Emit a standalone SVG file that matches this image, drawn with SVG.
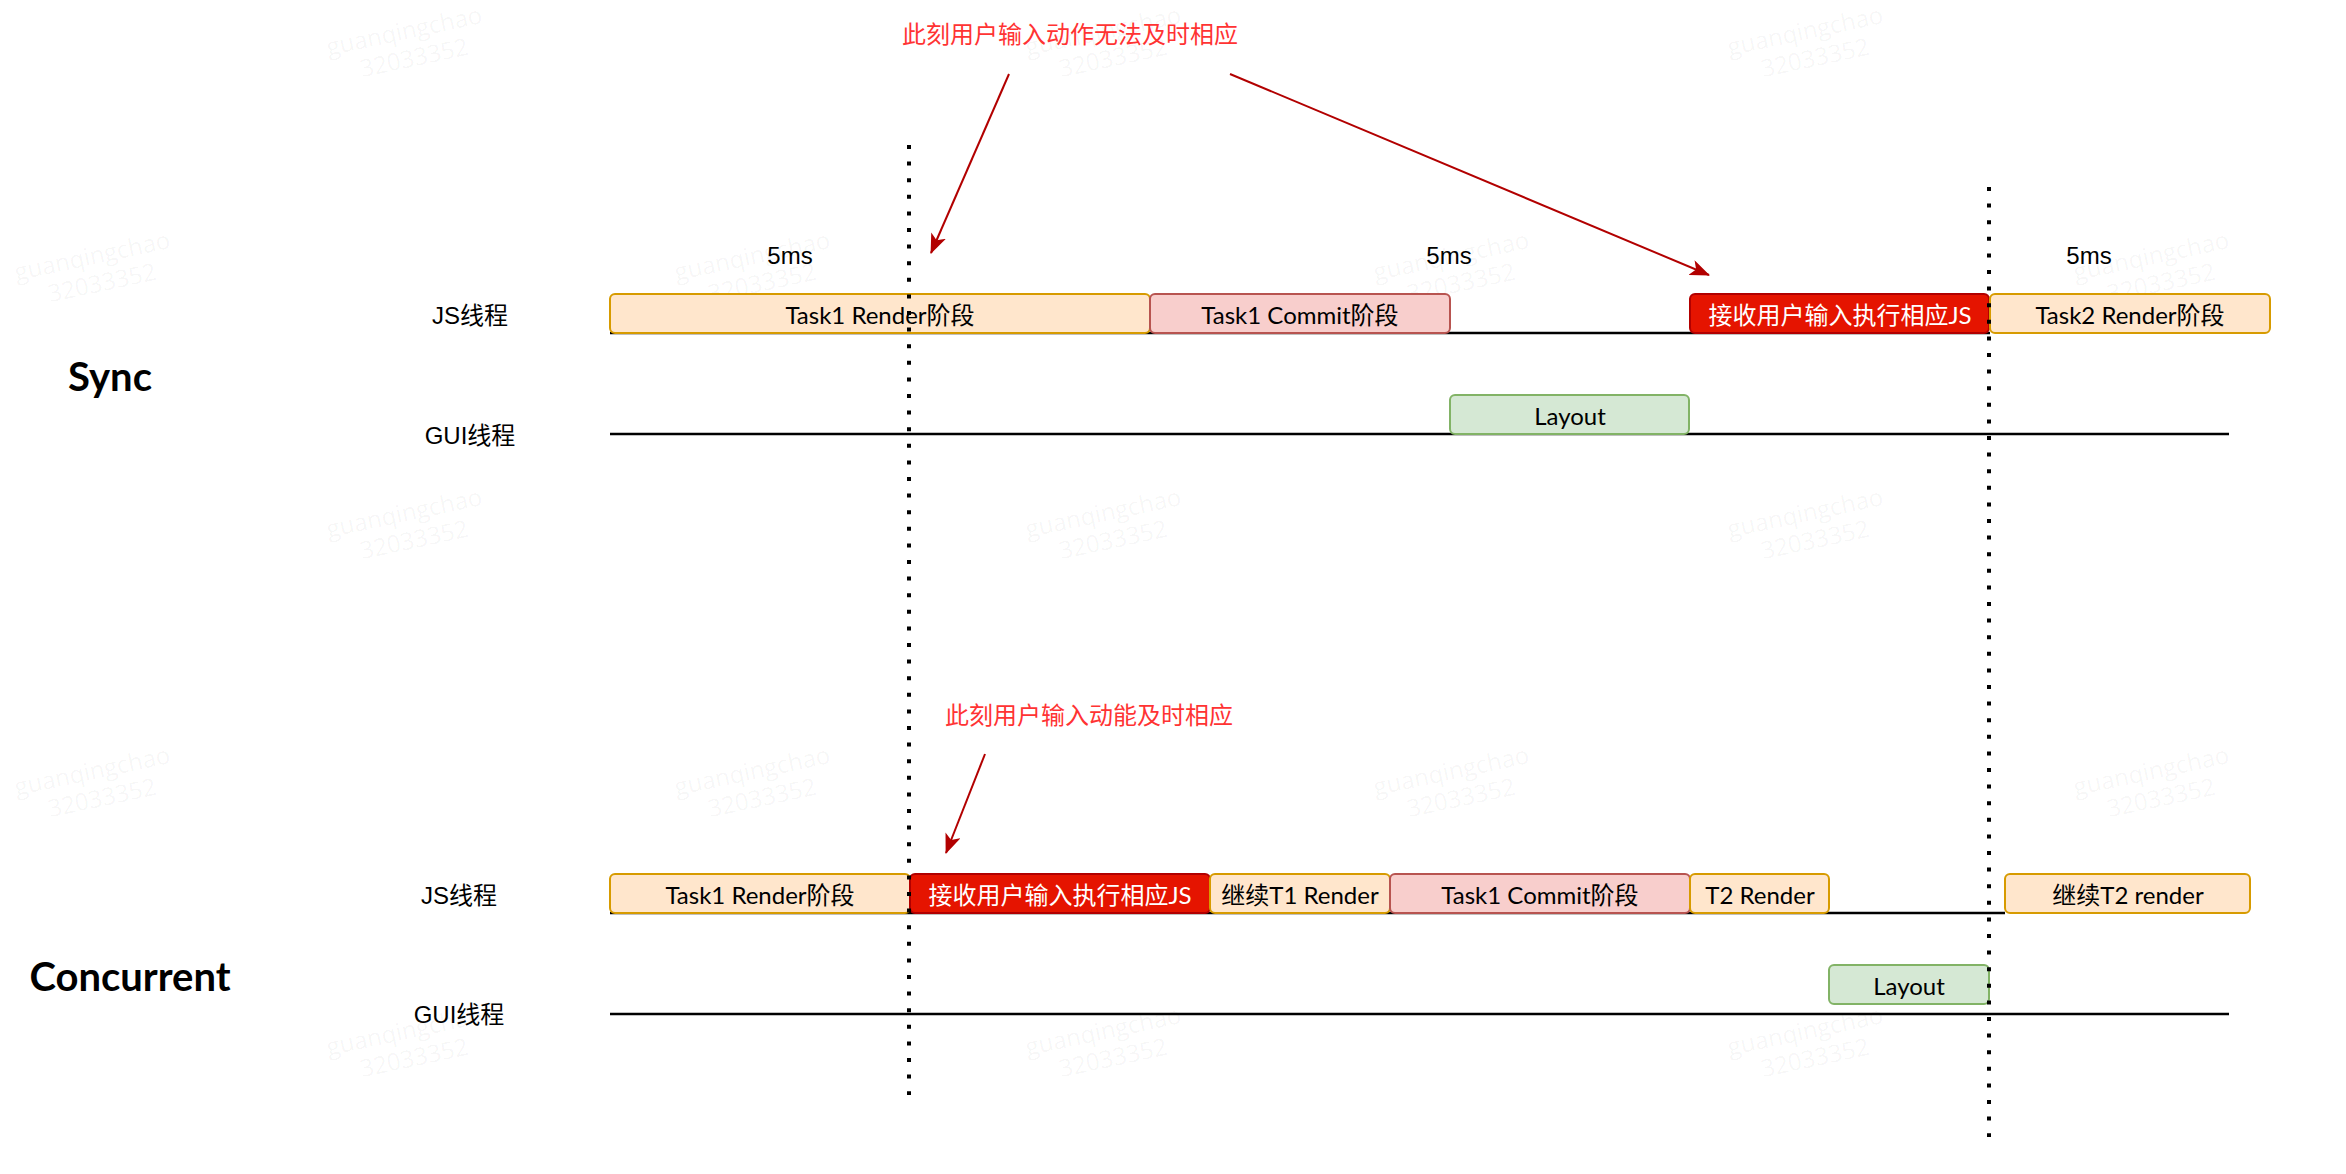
<svg xmlns="http://www.w3.org/2000/svg" width="2346" height="1174" viewBox="0 0 2346 1174">
<style>
.wm text{font-family:"Open Sans","Noto Sans",sans-serif;font-size:24px;fill:#000;fill-opacity:0.045;text-anchor:middle;dominant-baseline:central}
.lbl{font-family:"Liberation Sans","Noto Sans CJK SC",sans-serif;font-size:24px;fill:#000;text-anchor:middle;dominant-baseline:central}
.red{font-family:"Liberation Sans","Noto Sans CJK SC",sans-serif;font-size:24px;fill:#ff3333;text-anchor:middle;dominant-baseline:central}
.title{font-family:"Comic Sans MS",Lato,"Noto Sans",sans-serif;font-size:40px;font-weight:bold;fill:#000;text-anchor:middle;dominant-baseline:central}
.bt{font-family:"Comic Sans MS",Lato,"Noto Sans CJK SC",sans-serif;font-size:24px;fill:#000;text-anchor:middle;dominant-baseline:central}
.bt.w{fill:#fff}
.or{fill:#ffe6cc;stroke:#d79b00;stroke-width:2}
.pk{fill:#f8cecc;stroke:#b85450;stroke-width:2}
.gr{fill:#d5e8d4;stroke:#82b366;stroke-width:2}
.rd{fill:#e51400;stroke:#b20000;stroke-width:2}
.tl{stroke:#000;stroke-width:2.5;fill:none}
.dot{stroke:#000;stroke-width:4;stroke-dasharray:4 12.6;fill:none}
.arr{stroke:#b20000;stroke-width:2;fill:none;marker-end:url(#ah)}
</style>
<defs>
<marker id="ah" markerUnits="userSpaceOnUse" markerWidth="20" markerHeight="16" viewBox="0 0 20 16" refX="19" refY="8" orient="auto">
<path d="M0,0 L20,8 L0,16 L5,8 Z" fill="#b20000"/>
</marker>
</defs>
<rect x="0" y="0" width="2346" height="1174" fill="#fff"/>
<g class="wm">
<g transform="translate(404,30) rotate(-12)"><text x="0" y="0">guanqingchao</text><text x="4" y="28">32033352</text></g>
<g transform="translate(1103,30) rotate(-12)"><text x="0" y="0">guanqingchao</text><text x="4" y="28">32033352</text></g>
<g transform="translate(1805,30) rotate(-12)"><text x="0" y="0">guanqingchao</text><text x="4" y="28">32033352</text></g>
<g transform="translate(92,255) rotate(-12)"><text x="0" y="0">guanqingchao</text><text x="4" y="28">32033352</text></g>
<g transform="translate(752,255) rotate(-12)"><text x="0" y="0">guanqingchao</text><text x="4" y="28">32033352</text></g>
<g transform="translate(1451,255) rotate(-12)"><text x="0" y="0">guanqingchao</text><text x="4" y="28">32033352</text></g>
<g transform="translate(2151,255) rotate(-12)"><text x="0" y="0">guanqingchao</text><text x="4" y="28">32033352</text></g>
<g transform="translate(404,512) rotate(-12)"><text x="0" y="0">guanqingchao</text><text x="4" y="28">32033352</text></g>
<g transform="translate(1103,512) rotate(-12)"><text x="0" y="0">guanqingchao</text><text x="4" y="28">32033352</text></g>
<g transform="translate(1805,512) rotate(-12)"><text x="0" y="0">guanqingchao</text><text x="4" y="28">32033352</text></g>
<g transform="translate(92,770) rotate(-12)"><text x="0" y="0">guanqingchao</text><text x="4" y="28">32033352</text></g>
<g transform="translate(752,770) rotate(-12)"><text x="0" y="0">guanqingchao</text><text x="4" y="28">32033352</text></g>
<g transform="translate(1451,770) rotate(-12)"><text x="0" y="0">guanqingchao</text><text x="4" y="28">32033352</text></g>
<g transform="translate(2151,770) rotate(-12)"><text x="0" y="0">guanqingchao</text><text x="4" y="28">32033352</text></g>
<g transform="translate(404,1030) rotate(-12)"><text x="0" y="0">guanqingchao</text><text x="4" y="28">32033352</text></g>
<g transform="translate(1103,1030) rotate(-12)"><text x="0" y="0">guanqingchao</text><text x="4" y="28">32033352</text></g>
<g transform="translate(1805,1030) rotate(-12)"><text x="0" y="0">guanqingchao</text><text x="4" y="28">32033352</text></g>
</g>
<g id="labels">
<text class="title" x="110" y="376">Sync</text>
<text class="title" x="130" y="976">Concurrent</text>
<text class="lbl" x="470" y="315">JS线程</text>
<text class="lbl" x="470" y="435">GUI线程</text>
<text class="lbl" x="459" y="895">JS线程</text>
<text class="lbl" x="459" y="1014">GUI线程</text>
<text class="lbl" x="790" y="255">5ms</text>
<text class="lbl" x="1449" y="255">5ms</text>
<text class="lbl" x="2089" y="255">5ms</text>
<text class="red" x="1070" y="34">此刻用户输入动作无法及时相应</text>
<text class="red" x="1089" y="715">此刻用户输入动能及时相应</text>
</g>
<g id="timelines">
<line class="tl" x1="610" y1="333" x2="1990" y2="333"/>
<line class="tl" x1="610" y1="434" x2="2229" y2="434"/>
<line class="tl" x1="610" y1="913" x2="2005" y2="913"/>
<line class="tl" x1="610" y1="1014" x2="2229" y2="1014"/>
</g>
<g id="sync-task1-render"><rect class="or" x="610" y="294" width="540" height="39" rx="5"/><text class="bt" x="880" y="314">Task1 Render阶段</text></g>
<g id="sync-task1-commit"><rect class="pk" x="1150" y="294" width="300" height="39" rx="5"/><text class="bt" x="1300" y="314">Task1 Commit阶段</text></g>
<g id="sync-layout"><rect class="gr" x="1450" y="395" width="239" height="39" rx="5"/><text class="bt" x="1570" y="415">Layout</text></g>
<g id="sync-input-js"><rect class="rd" x="1690" y="294" width="299" height="39" rx="5"/><text class="bt w" x="1840" y="314">接收用户输入执行相应JS</text></g>
<g id="sync-task2-render"><rect class="or" x="1990" y="294" width="280" height="39" rx="5"/><text class="bt" x="2130" y="314">Task2 Render阶段</text></g>
<g id="conc-task1-render"><rect class="or" x="610" y="874" width="300" height="39" rx="5"/><text class="bt" x="760" y="894">Task1 Render阶段</text></g>
<g id="conc-input-js"><rect class="rd" x="910" y="874" width="300" height="39" rx="5"/><text class="bt w" x="1060" y="894">接收用户输入执行相应JS</text></g>
<g id="conc-continue-t1"><rect class="or" x="1210" y="874" width="180" height="39" rx="5"/><text class="bt" x="1300" y="894">继续T1 Render</text></g>
<g id="conc-task1-commit"><rect class="pk" x="1390" y="874" width="300" height="39" rx="5"/><text class="bt" x="1540" y="894">Task1 Commit阶段</text></g>
<g id="conc-t2-render"><rect class="or" x="1690" y="874" width="139" height="39" rx="5"/><text class="bt" x="1760" y="894">T2 Render</text></g>
<g id="conc-layout"><rect class="gr" x="1829" y="965" width="160" height="39" rx="5"/><text class="bt" x="1909" y="985">Layout</text></g>
<g id="conc-continue-t2"><rect class="or" x="2005" y="874" width="245" height="39" rx="5"/><text class="bt" x="2128" y="894">继续T2 render</text></g>
<g id="markers-lines">
<line class="dot" x1="909" y1="145" x2="909" y2="1095"/>
<line class="dot" x1="1989" y1="187" x2="1989" y2="1137"/>
</g>
<g id="connectors">
<line class="arr" x1="1009" y1="74" x2="931" y2="253"/>
<line class="arr" x1="1230" y1="74" x2="1709" y2="275"/>
<line class="arr" x1="985" y1="754" x2="946" y2="853"/>
</g>
</svg>
